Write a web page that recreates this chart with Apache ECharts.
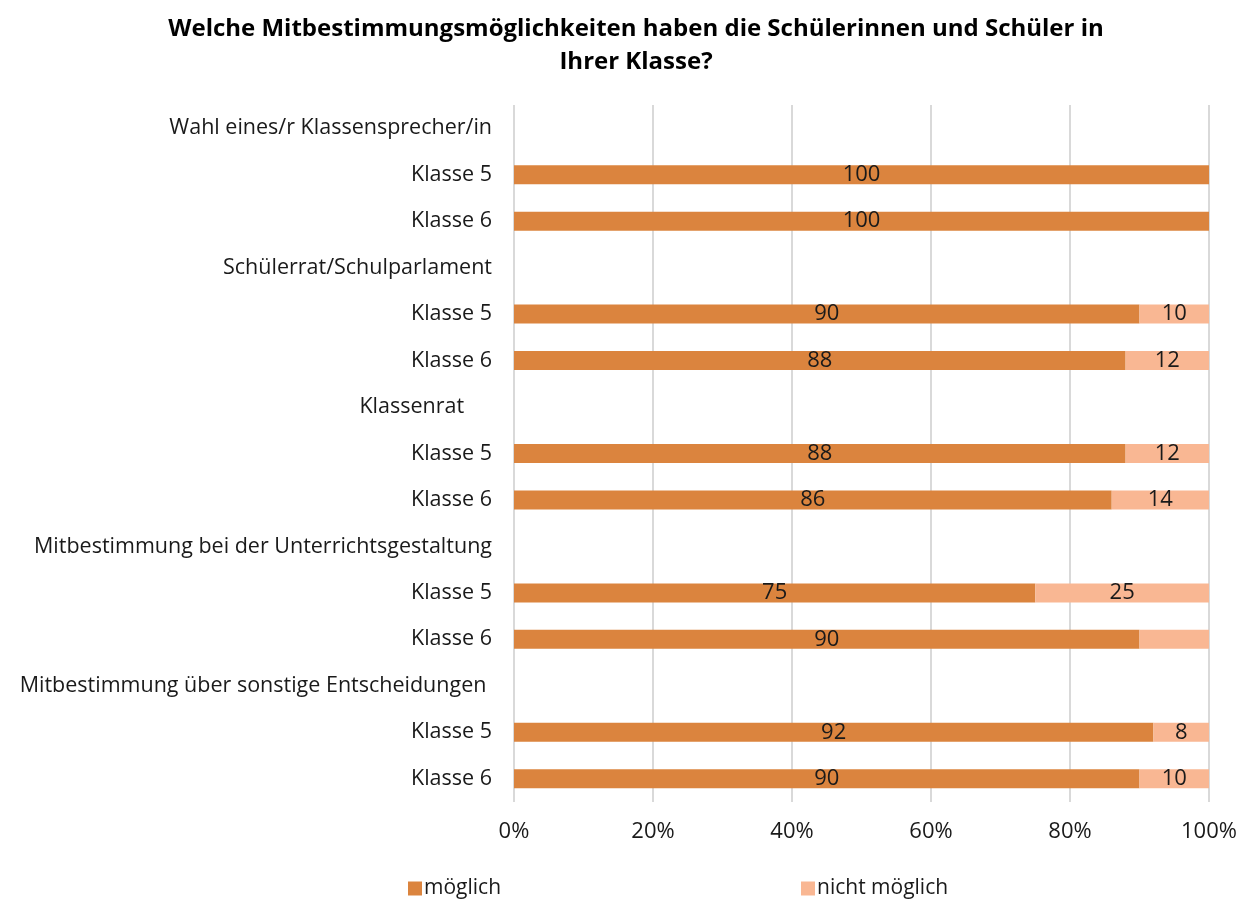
<!DOCTYPE html>
<html>
<head>
<meta charset="utf-8">
<script src="https://cdn.jsdelivr.net/npm/echarts@6/dist/echarts.min.js"></script>
<style>
  html, body { margin: 0; padding: 0; background: #fff; }
  #chart { width: 1241px; height: 900px; }
</style>
</head>
<body>
<div id="chart"></div>
<script>
// Kategorien (Gruppenzeilen ohne Balken)
const categories = [
  'Wahl eines/r Klassensprecher/in', 'Klasse 5', 'Klasse 6',
  'Schülerrat/Schulparlament', 'Klasse 5', 'Klasse 6',
  'Klassenrat     ', 'Klasse 5', 'Klasse 6',
  'Mitbestimmung bei der Unterrichtsgestaltung', 'Klasse 5', 'Klasse 6',
  'Mitbestimmung über sonstige Entscheidungen ', 'Klasse 5', 'Klasse 6'
];
const moeglich = [null, 100, 100, null, 90, 88, null, 88, 86, null, 75, 90, null, 92, 90];
const nichtMoeglich = [null, 0, 0, null, 10, 12, null, 12, 14, null, 25, 10, null, 8, 10];
// Werte ohne Beschriftung im Original
const hiddenLabels = [0, 1, 2, 11];
const xTicks = [0, 20, 40, 60, 80, 100];

const FONT = '"Open Sans", "Noto Sans", sans-serif';

const chart = echarts.init(document.getElementById('chart'));

const labelStyle = {
  show: true,
  position: 'inside',
  color: '#1a1a1a',
  fontSize: 22,
  fontFamily: FONT,
  formatter: p => (p.value ? p.value : '')
};

chart.setOption({
  animation: false,
  title: {
    text: 'Welche Mitbestimmungsmöglichkeiten haben die Schülerinnen und Schüler in\nIhrer Klasse?',
    left: 631,
    textAlign: 'center',
    top: 8,
    textStyle: {
      fontFamily: FONT,
      fontSize: 24,
      fontWeight: 'bold',
      color: '#000',
      lineHeight: 33
    }
  },
  legend: {
    bottom: -4,
    left: 403,
    itemWidth: 14,
    itemHeight: 14,
    itemGap: 300,
    icon: 'rect',
    textStyle: { fontFamily: FONT, fontSize: 21, color: '#1a1a1a', padding: [0, 0, 0, -3] },
    data: ['möglich', 'nicht möglich']
  },
  grid: { left: 514, right: 32, top: 105, bottom: 98 },
  xAxis: {
    type: 'value',
    min: 0,
    max: 100,
    interval: 20,
    axisLine: { show: false },
    axisTick: { show: false },
    splitLine: { lineStyle: { color: '#d9d9d9', width: 2 } },
    axisLabel: {
      fontFamily: FONT,
      fontSize: 22,
      color: '#1a1a1a',
      margin: 19,
      formatter: v => (xTicks.includes(v) ? v + '%' : '')
    }
  },
  yAxis: {
    type: 'category',
    inverse: true,
    data: categories,
    axisLine: { show: false },
    axisTick: { show: false },
    axisLabel: {
      fontFamily: FONT,
      fontSize: 21.5,
      color: '#1a1a1a',
      margin: 22
    }
  },
  series: [
    {
      name: 'möglich',
      type: 'bar',
      stack: 'total',
      barWidth: 19,
      itemStyle: { color: '#DB843E' },
      label: labelStyle,
      data: moeglich
    },
    {
      name: 'nicht möglich',
      type: 'bar',
      stack: 'total',
      barWidth: 19,
      itemStyle: { color: '#F9B793' },
      label: labelStyle,
      data: nichtMoeglich.map((v, i) =>
        hiddenLabels.includes(i) ? { value: v, label: { show: false } } : v)
    }
  ]
});
</script>
</body>
</html>
